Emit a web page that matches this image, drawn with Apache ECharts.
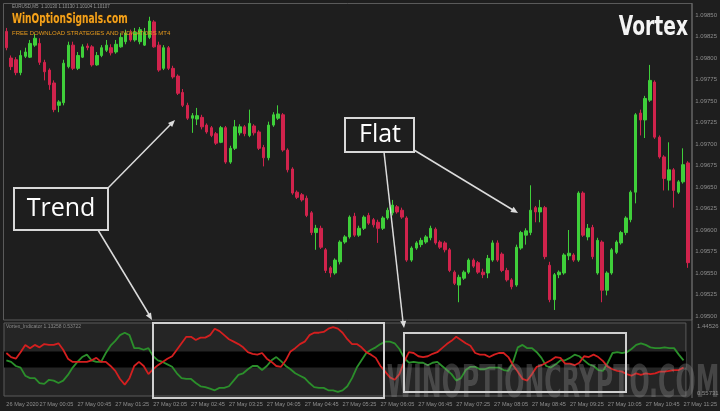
<!DOCTYPE html>
<html><head><meta charset="utf-8">
<script src="https://cdn.jsdelivr.net/npm/echarts@6/dist/echarts.min.js"></script>
<style>html,body{margin:0;padding:0;background:#1e1e1e}#c{width:720px;height:411px}</style>
</head><body><div id="c"></div>
<script>
// ---- data ----
const categories = (function(){const a=[];for(let i=0;i<144;i++){let m=23*60+30+5*i;let d=m>=1440?'27 May ':'26 May ';m=m%1440;const hh=String(Math.floor(m/60)).padStart(2,'0'),mm=String(m%60).padStart(2,'0');a.push(d+hh+':'+mm);}return a;})();
const firstTickLabel = '26 May 2020';
// [open, close, low, high]
const ohlc = [
[1.09831,1.09812,1.09809,1.09835],[1.09800,1.09790,1.09786,1.09803],[1.09798,1.09783,1.09780,1.09801],[1.09783,1.09803,1.09780,1.09809],
[1.09802,1.09807,1.09800,1.09812],[1.09801,1.09817,1.09800,1.09821],[1.09815,1.09823,1.09813,1.09828],[1.09817,1.09795,1.09792,1.09823],
[1.09795,1.09784,1.09774,1.09798],[1.09786,1.09769,1.09763,1.09788],[1.09771,1.09740,1.09737,1.09774],[1.09745,1.09749,1.09737,1.09751],
[1.09748,1.09794,1.09745,1.09798],[1.09790,1.09815,1.09788,1.09819],[1.09815,1.09788,1.09786,1.09819],[1.09788,1.09803,1.09786,1.09807],
[1.09801,1.09813,1.09800,1.09816],[1.09814,1.09812,1.09809,1.09817],[1.09813,1.09792,1.09790,1.09815],[1.09792,1.09803,1.09791,1.09807],
[1.09803,1.09812,1.09801,1.09815],[1.09809,1.09815,1.09807,1.09821],[1.09812,1.09806,1.09803,1.09816],[1.09807,1.09816,1.09805,1.09821],
[1.09813,1.09824,1.09812,1.09829],[1.09819,1.09829,1.09816,1.09833],[1.09829,1.09821,1.09819,1.09833],[1.09821,1.09830,1.09819,1.09835],
[1.09819,1.09833,1.09816,1.09836],[1.09815,1.09830,1.09814,1.09835],[1.09824,1.09843,1.09822,1.09848],[1.09842,1.09813,1.09812,1.09844],
[1.09815,1.09786,1.09784,1.09819],[1.09788,1.09812,1.09786,1.09815],[1.09812,1.09788,1.09786,1.09814],[1.09788,1.09778,1.09776,1.09791],
[1.09779,1.09759,1.09757,1.09781],[1.09760,1.09745,1.09743,1.09764],[1.09745,1.09730,1.09728,1.09748],[1.09730,1.09733,1.09713,1.09736],
[1.09729,1.09733,1.09722,1.09742],[1.09731,1.09720,1.09717,1.09734],[1.09722,1.09714,1.09712,1.09724],[1.09719,1.09710,1.09708,1.09721],
[1.09712,1.09701,1.09699,1.09714],[1.09702,1.09719,1.09701,1.09721],[1.09719,1.09679,1.09677,1.09721],[1.09679,1.09695,1.09677,1.09698],
[1.09695,1.09720,1.09693,1.09728],[1.09713,1.09720,1.09710,1.09723],[1.09720,1.09712,1.09709,1.09722],[1.09710,1.09724,1.09708,1.09740],
[1.09721,1.09713,1.09710,1.09723],[1.09714,1.09695,1.09693,1.09716],[1.09696,1.09684,1.09674,1.09699],[1.09684,1.09722,1.09681,1.09726],
[1.09722,1.09734,1.09720,1.09737],[1.09730,1.09735,1.09728,1.09745],[1.09734,1.09693,1.09691,1.09736],[1.09693,1.09670,1.09667,1.09695],
[1.09671,1.09643,1.09641,1.09673],[1.09644,1.09638,1.09636,1.09646],[1.09641,1.09635,1.09633,1.09643],[1.09637,1.09617,1.09615,1.09640],
[1.09620,1.09597,1.09594,1.09622],[1.09597,1.09602,1.09577,1.09606],[1.09602,1.09580,1.09578,1.09605],[1.09577,1.09553,1.09550,1.09579],
[1.09556,1.09550,1.09545,1.09558],[1.09550,1.09565,1.09548,1.09567],[1.09563,1.09586,1.09560,1.09588],[1.09586,1.09592,1.09584,1.09594],
[1.09592,1.09615,1.09590,1.09617],[1.09616,1.09594,1.09592,1.09620],[1.09594,1.09602,1.09592,1.09605],[1.09602,1.09615,1.09600,1.09617],
[1.09617,1.09608,1.09606,1.09620],[1.09612,1.09606,1.09603,1.09614],[1.09609,1.09602,1.09585,1.09612],[1.09602,1.09614,1.09600,1.09616],
[1.09614,1.09623,1.09612,1.09626],[1.09620,1.09629,1.09617,1.09635],[1.09627,1.09621,1.09619,1.09629],[1.09623,1.09615,1.09613,1.09626],
[1.09614,1.09565,1.09563,1.09616],[1.09565,1.09579,1.09563,1.09581],[1.09579,1.09585,1.09577,1.09587],[1.09583,1.09588,1.09580,1.09591],
[1.09586,1.09592,1.09584,1.09594],[1.09591,1.09602,1.09588,1.09605],[1.09601,1.09585,1.09583,1.09603],[1.09586,1.09580,1.09578,1.09588],
[1.09585,1.09577,1.09574,1.09587],[1.09577,1.09553,1.09551,1.09579],[1.09551,1.09538,1.09536,1.09553],[1.09536,1.09545,1.09516,1.09548],
[1.09544,1.09551,1.09542,1.09553],[1.09551,1.09565,1.09549,1.09567],[1.09565,1.09558,1.09556,1.09567],[1.09562,1.09551,1.09549,1.09564],
[1.09551,1.09548,1.09544,1.09555],[1.09550,1.09567,1.09544,1.09571],[1.09565,1.09585,1.09563,1.09588],[1.09585,1.09565,1.09563,1.09588],
[1.09572,1.09553,1.09551,1.09574],[1.09553,1.09542,1.09540,1.09556],[1.09542,1.09534,1.09531,1.09544],[1.09536,1.09580,1.09534,1.09583],
[1.09579,1.09597,1.09577,1.09599],[1.09594,1.09599,1.09583,1.09602],[1.09597,1.09623,1.09594,1.09652],[1.09626,1.09621,1.09609,1.09628],
[1.09621,1.09626,1.09609,1.09635],[1.09626,1.09569,1.09566,1.09628],[1.09559,1.09519,1.09516,1.09563],[1.09519,1.09548,1.09507,1.09550],
[1.09548,1.09551,1.09544,1.09553],[1.09550,1.09571,1.09548,1.09573],[1.09570,1.09573,1.09565,1.09600],[1.09571,1.09565,1.09563,1.09573],
[1.09565,1.09643,1.09563,1.09645],[1.09643,1.09594,1.09592,1.09645],[1.09592,1.09602,1.09588,1.09607],[1.09603,1.09569,1.09566,1.09606],
[1.09550,1.09588,1.09548,1.09591],[1.09586,1.09530,1.09516,1.09588],[1.09530,1.09550,1.09524,1.09552],[1.09550,1.09577,1.09548,1.09579],
[1.09574,1.09586,1.09572,1.09588],[1.09585,1.09597,1.09583,1.09599],[1.09597,1.09614,1.09594,1.09616],[1.09612,1.09644,1.09609,1.09646],
[1.09644,1.09734,1.09631,1.09736],[1.09736,1.09728,1.09710,1.09740],[1.09728,1.09753,1.09707,1.09756],[1.09751,1.09774,1.09749,1.09792],
[1.09772,1.09708,1.09706,1.09774],[1.09708,1.09685,1.09683,1.09710],[1.09685,1.09660,1.09646,1.09687],[1.09658,1.09670,1.09646,1.09702],
[1.09670,1.09646,1.09626,1.09672],[1.09644,1.09656,1.09642,1.09658],[1.09656,1.09676,1.09654,1.09695],[1.09678,1.09562,1.09556,1.09680]
];
const viPlus = [0.99,0.97,0.92,0.90,0.80,0.77,0.77,0.71,0.70,0.75, 0.74,0.71,0.74,0.81,0.90,0.97,1.03,1.06,0.99,0.97,
0.97,1.08,1.17,1.23,1.30,1.33,1.30,1.14,1.14,1.12, 1.14,1.04,0.99,0.97,0.94,0.91,0.83,0.77,0.76,0.76,
0.71,0.67,0.66,0.64,0.62,0.65,0.65,0.67,0.74,0.81, 0.83,0.88,0.92,0.92,0.87,0.92,0.99,1.03,0.98,0.92,
0.88,0.83,0.80,0.77,0.71,0.66,0.65,0.65,0.62,0.62, 0.60,0.62,0.67,0.77,0.90,0.99,1.08,1.12,1.15,1.19,
1.22,1.22,1.20,1.13,1.02,0.96,0.97,0.96,0.96,0.93, 0.96,0.97,0.92,0.87,0.82,0.74,0.77,0.87,0.91,0.91,
0.88,0.88,0.90,0.90,0.90,0.87,0.86,0.97,1.15,1.18, 1.14,1.14,1.09,1.02,0.92,0.90,0.94,0.99,0.99,1.02,
1.06,1.04,0.99,0.94,0.92,0.87,0.86,0.96,1.08,1.09, 1.08,1.09,1.13,1.18,1.20,1.18,1.15,1.14,1.14,1.15,
1.14,1.14,1.06,0.99];
const viMinus = [1.08,1.03,1.01,1.09,1.18,1.14,1.18,1.15,1.19,1.18, 1.18,1.20,1.12,1.01,0.97,0.97,0.97,0.97,0.99,1.02,
0.97,0.97,0.92,0.86,0.76,0.69,0.77,0.92,0.97,0.92, 0.82,0.88,0.93,0.97,1.01,1.04,1.12,1.20,1.28,1.28,
1.24,1.27,1.27,1.30,1.38,1.35,1.30,1.25,1.22,1.19, 1.15,1.09,1.07,1.06,1.08,1.01,0.97,0.92,0.91,0.99,
1.10,1.14,1.19,1.22,1.30,1.33,1.33,1.34,1.38,1.40, 1.38,1.33,1.25,1.19,1.19,1.15,1.09,1.06,1.02,0.92,
0.85,0.78,0.75,0.82,0.97,1.09,1.08,1.04,1.03,1.04, 1.07,1.09,1.14,1.19,1.23,1.28,1.24,1.20,1.17,1.08,
1.06,1.06,1.03,1.06,1.08,1.08,1.03,0.93,0.85,0.76, 0.74,0.82,0.91,0.93,0.96,0.99,1.03,1.02,0.95,0.95,
0.93,0.96,1.04,1.03,1.06,1.03,0.98,0.91,0.88,0.86, 0.85,0.82,0.80,0.83,0.81,0.83,0.82,0.83,0.85,0.85,
0.86,0.87,0.87,0.90];
const bandLevels = [0.9, 1.1];
const priceMin = 1.095, priceMax = 1.09864, priceStep = 0.00025;
const indMin = 0.55, indMax = 1.45;
const headerText = 'EURUSD,M5  1.10130 1.10130 1.10104 1.10107';
const indicatorText = 'Vortex_Indicator 1.13258 0.53722';
const indTopLabel = '1.44526', indBottomLabel = '0.55731';

// ---- chart ----
const chart = echarts.init(document.getElementById('c'), null, {renderer:'canvas'});
const lineCol = '#dcdcdc';
const narrow = 'Liberation Sans Narrow, DejaVu Sans Condensed, sans-serif';
const arrow = (pts) => ({type:'polygon', shape:{points:pts}, style:{fill:lineCol}, z:101, silent:true});
const seg = (x1,y1,x2,y2) => ({type:'line', shape:{x1,y1,x2,y2}, style:{stroke:lineCol, lineWidth:1.5}, z:100, silent:true});
chart.setOption({
  animation:false,
  backgroundColor:'#1e1e1e',
  grid:[
    {left:4, right:27, top:3, bottom:95},
    {left:4, right:27, top:323, bottom:15, show:true, backgroundColor:'#252525', borderColor:'#5a5a5a', borderWidth:1}
  ],
  xAxis:[
    {type:'category', gridIndex:0, data:categories, boundaryGap:true, axisLine:{show:false}, axisTick:{show:false}, axisLabel:{show:false}},
    {type:'category', gridIndex:1, data:categories, boundaryGap:true, axisLine:{show:false}, axisTick:{show:false},
     axisLabel:{show:true, color:'#8e8e8e', fontSize:5.6, fontFamily:'Liberation Sans', align:'left', margin:5, showMinLabel:true,
       interval:function(i){return i===0 || (i-7)%8===0;},
       formatter:function(v,i){return v===categories[0]?firstTickLabel:v;}}}
  ],
  yAxis:[
    {type:'value', gridIndex:0, position:'right', min:priceMin, max:priceMax, interval:priceStep, scale:true,
     splitLine:{show:false}, axisLine:{show:false}, axisTick:{show:false},
     axisLabel:{color:'#8e8e8e', fontSize:6, fontFamily:'Liberation Sans', margin:5, showMaxLabel:false,
       formatter:function(v){return v.toFixed(5);}}},
    {type:'value', gridIndex:1, position:'right', min:indMin, max:indMax, splitLine:{show:false},
     axisLine:{show:false}, axisTick:{show:false}, axisLabel:{show:false}}
  ],
  series:[
    {type:'candlestick', xAxisIndex:0, yAxisIndex:0, data:ohlc, barWidth:3,
     itemStyle:{color:'#3fcf3a', color0:'#d0234c', borderColor:'#3fcf3a', borderColor0:'#d0234c', borderWidth:1}},
    {type:'line', xAxisIndex:1, yAxisIndex:1, data:viPlus, showSymbol:false, z:3,
     lineStyle:{color:'#2b8f2b', width:1.8}, itemStyle:{color:'#2b8f2b'},
     markArea:{silent:true, itemStyle:{color:'#000000'}, data:[[{yAxis:bandLevels[0]},{yAxis:bandLevels[1]}]]}},
    {type:'line', xAxisIndex:1, yAxisIndex:1, data:viMinus, showSymbol:false, z:4,
     lineStyle:{color:'#d41f1f', width:1.8}, itemStyle:{color:'#d41f1f'}}
  ],
  graphic:[
    {type:'rect', shape:{x:3.5,y:3.5,width:688.5,height:316.5}, style:{fill:null, stroke:'#5a5a5a', lineWidth:1}, silent:true, z:0},
    {type:'line', shape:{x1:692,y1:3,x2:692,y2:398}, style:{stroke:'#6a6a6a', lineWidth:1}, silent:true, z:1},
    {type:'text', x:12, y:4, style:{text:headerText, fill:'#9a9a9a', fontSize:4.5, fontFamily:'Liberation Sans'}, silent:true, z:50},
    {type:'text', x:12, y:12, scaleX:0.72, style:{text:'WinOptionSignals.com', fill:'#f5a21b', fontSize:14, fontWeight:'bold', fontFamily:narrow, stroke:'#3a2a10', lineWidth:1}, silent:true, z:50},
    {type:'text', x:12, y:30, style:{text:'FREE DOWNLOAD STRATEGIES AND INDICATORS MT4', fill:'#e89a1c', fontSize:6, fontFamily:'Liberation Sans'}, silent:true, z:50},
    {type:'text', x:688, y:15, scaleX:0.8, style:{text:'Vortex', fill:'#f4f4f4', fontSize:26, fontWeight:'bold', textAlign:'right', fontFamily:narrow}, silent:true, z:50},
    {type:'text', x:6, y:324, style:{text:indicatorText, fill:'#8a8a8a', fontSize:5, fontFamily:'Liberation Sans'}, silent:true, z:50},
    {type:'text', x:697, y:323, style:{text:indTopLabel, fill:'#8e8e8e', fontSize:6, fontFamily:'Liberation Sans'}, silent:true, z:50},
    {type:'text', x:697, y:390, style:{text:indBottomLabel, fill:'#8e8e8e', fontSize:6, fontFamily:'Liberation Sans'}, silent:true, z:50},
    // watermark
    {type:'text', x:553, y:386, scaleX:0.6, style:{text:'WINOPTIONCRYPTO.COM', fill:'rgba(150,150,150,0.33)', fontSize:44, fontWeight:'bold', textAlign:'center', textVerticalAlign:'middle', fontFamily:narrow}, silent:true, z:60},
    // annotations
    {type:'rect', shape:{x:14,y:188,width:94,height:42}, style:{fill:'#1e1e1e', stroke:'#d8d8d8', lineWidth:2}, z:100, silent:true},
    {type:'text', x:61, y:209, style:{text:'Trend', fill:'#ffffff', fontSize:25, fontFamily:'Open Sans', textAlign:'center', textVerticalAlign:'middle'}, z:101, silent:true},
    {type:'rect', shape:{x:345,y:118,width:69,height:34}, style:{fill:'#1e1e1e', stroke:'#d8d8d8', lineWidth:2}, z:100, silent:true},
    {type:'text', x:380, y:135, style:{text:'Flat', fill:'#ffffff', fontSize:25, fontFamily:'Open Sans', textAlign:'center', textVerticalAlign:'middle'}, z:101, silent:true},
    seg(108,188,172,123), arrow([[175,120],[172.2,127.1],[168,122.9]]),
    seg(98,230,150,316), arrow([[152,320],[151,312.5],[145.8,315.5]]),
    seg(414,150,513,210), arrow([[518,213],[513.6,206.8],[510.4,212]]),
    seg(384,152,403,322), arrow([[404,328],[406.2,320.7],[400.2,321.3]]),
    {type:'rect', shape:{x:153,y:323,width:231,height:75}, style:{fill:null, stroke:'#d0d0d0', lineWidth:2}, z:100, silent:true},
    {type:'rect', shape:{x:404,y:333,width:222,height:59}, style:{fill:null, stroke:'#d0d0d0', lineWidth:2}, z:100, silent:true}
  ]
});
</script></body></html>
